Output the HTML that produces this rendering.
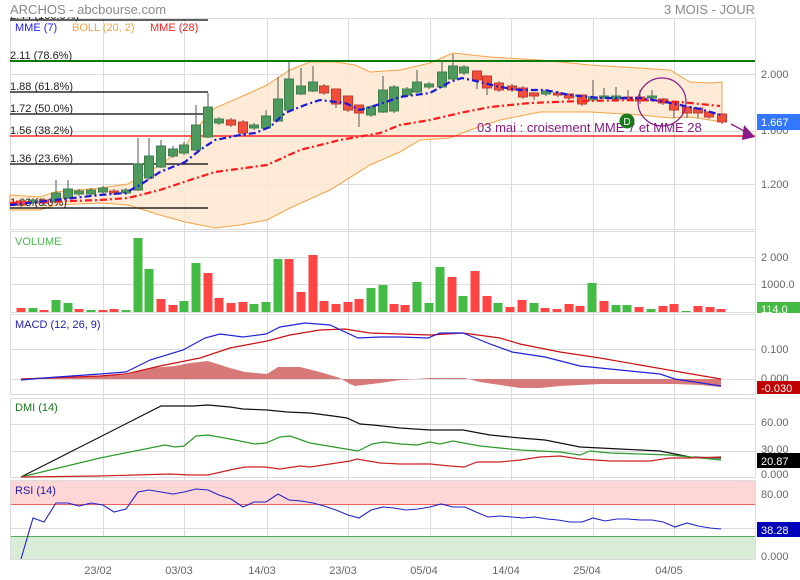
<!DOCTYPE html>
<html><head><meta charset="utf-8"><style>
html,body{margin:0;padding:0;background:#fff;}
svg{display:block;font-family:"Liberation Sans",sans-serif;}
</style></head><body>
<svg width="800" height="580" viewBox="0 0 800 580" xmlns="http://www.w3.org/2000/svg">
<defs><clipPath id="c1"><rect x="0" y="17" width="300" height="10"/></clipPath></defs>
<rect width="800" height="580" fill="#fff"/>
<text x="10" y="14" font-size="13" fill="#8a8a8a">ARCHOS - abcbourse.com</text>
<text x="755" y="14" font-size="13" fill="#8a8a8a" text-anchor="end">3 MOIS - JOUR</text>

<g stroke="#dcdcdc" stroke-width="1" fill="none">
<rect x="10.5" y="18.5" width="745" height="211"/>
<rect x="10.5" y="231.5" width="745" height="81"/>
<rect x="10.5" y="314.5" width="745" height="80"/>
<rect x="10.5" y="398.5" width="745" height="79"/>
<rect x="10.5" y="480.5" width="745" height="79"/>
<path d="M103.5 18V560M184.5 18V560M267.5 18V560M348.5 18V560M430.5 18V560M511.5 18V560M593.5 18V560M674.5 18V560"/>
<path d="M10 74.5H755M10 131.5H755M10 184.5H755M10 257.5H755M10 284.5H755M10 349.5H755M10 379.5H755M10 424.5H755M10 451.5H755M10 495.5H755M10 528.5H755"/>
</g>

<rect x="11" y="481" width="744" height="23" fill="#ffd6d6"/>
<rect x="11" y="536" width="744" height="23" fill="#d8ecd8"/>
<line x1="11" y1="504.5" x2="755" y2="504.5" stroke="#e86060"/>
<line x1="11" y1="536.5" x2="755" y2="536.5" stroke="#5aa85a"/>

<polygon fill="#fde6d0" fill-opacity="0.85" stroke="#f4a445" stroke-width="1" points="10,195 40,197 55,192 100,188 128,184 160,165 185,147 195,130 215,108 245,95 267,85 290,70 310,62 335,62 355,65 370,72 400,70 430,63 453,53 490,57 540,60 590,65 670,70 690,82 710,83 722,82 722,122 710,120 690,117 670,118 640,115 590,112 540,112 500,120 470,130 450,138 420,140 400,152 370,165 330,190 290,208 267,220 240,225 215,228 200,225 185,222 160,215 128,205 100,203 55,205 40,210 10,210"/>

<g stroke="#000" stroke-width="1.2">
<line x1="10" y1="20" x2="208" y2="20"/>
<line x1="10" y1="92" x2="208" y2="92"/>
<line x1="10" y1="114" x2="208" y2="114"/>
<line x1="10" y1="164" x2="208" y2="164"/>
<line x1="10" y1="208" x2="208" y2="208"/>
</g>
<line x1="10" y1="61" x2="755" y2="61" stroke="#0a7a0a" stroke-width="2"/>
<line x1="10" y1="136" x2="755" y2="136" stroke="#ff0000" stroke-width="1.3"/>
<g font-size="11" fill="#222">
<text x="10" y="19" clip-path="url(#c1)">2.44 (100.0%)</text>
<text x="10" y="59">2.11 (78.6%)</text>
<text x="10" y="90">1.88  (61.8%)</text>
<text x="10" y="112">1.72  (50.0%)</text>
<text x="10" y="134">1.56  (38.2%)</text>
<text x="10" y="162">1.36  (23.6%)</text>
<text x="10" y="206">1.03  (0.0%)</text>
</g>
<g font-size="11">
<text x="15" y="31" fill="#1a1aff">MME (7)</text>
<text x="72" y="31" fill="#f4a445">BOLL (20, 2)</text>
<text x="150" y="31" fill="#ff2020">MME (28)</text>
</g>

<g stroke-width="1">
<g stroke="#555">
<path d="M56 180V203M68 180V199M138 138V191M149 138V179M161 140V168M196 105V151M208 93V138M266 110V129M278 77V122M289 62V111M301 68V95M313 66V92M359 105V127M383 76V113M417 70V93M442 60V88M453 54V80M477 71V89M487 76V95M593 80V101M616 87V100M674 102V118M687 107V118M698 108V118M722 114V124M336 89V108M348 96V112M534 92V100M569 94V100M582 95V106M663 98V105M709 112V119M149 156V180M33 198V206M21 199V207M44 198V206M79 189V196M91 188V196M103 186V194M114 189V195M126 188V195M173 146V158M184 142V155M219 117V125M231 118V127M243 120V135M254 123V130M324 84V95M371 105V117M394 85V113M407 87V97M429 82V89M464 65V75M499 81V92M512 84V92M523 86V99M546 89V96M558 91V97M604 88V99M628 90V100M640 90V104M652 90V100"/>
</g>
<g fill="#4e9a5e" stroke="#3f7f4c">
<rect x="28.5" y="200" width="9" height="3"/>
<rect x="51.5" y="193" width="9" height="9"/>
<rect x="63.5" y="189" width="9" height="9"/>
<rect x="74.5" y="191" width="9" height="3"/>
<rect x="86.5" y="190" width="9" height="4"/>
<rect x="98.5" y="188" width="9" height="4"/>
<rect x="121.5" y="190" width="9" height="3"/>
<rect x="133.5" y="164" width="9" height="26"/>
<rect x="144.5" y="156" width="9" height="22"/>
<rect x="156.5" y="146" width="9" height="21"/>
<rect x="168.5" y="149" width="9" height="7"/>
<rect x="179.5" y="145" width="9" height="8"/>
<rect x="191.5" y="125" width="9" height="25"/>
<rect x="203.5" y="107" width="9" height="30"/>
<rect x="214.5" y="119" width="9" height="4"/>
<rect x="249.5" y="125" width="9" height="3"/>
<rect x="261.5" y="116" width="9" height="12"/>
<rect x="273.5" y="99" width="9" height="22"/>
<rect x="284.5" y="79" width="9" height="31"/>
<rect x="296.5" y="86" width="9" height="8"/>
<rect x="308.5" y="82" width="9" height="9"/>
<rect x="366.5" y="107" width="9" height="8"/>
<rect x="378.5" y="90" width="9" height="22"/>
<rect x="389.5" y="87" width="9" height="24"/>
<rect x="402.5" y="89" width="9" height="6"/>
<rect x="412.5" y="82" width="9" height="10"/>
<rect x="424.5" y="84" width="9" height="3"/>
<rect x="437.5" y="72" width="9" height="15"/>
<rect x="448.5" y="66" width="9" height="13"/>
<rect x="459.5" y="67" width="9" height="6"/>
<rect x="541.5" y="91" width="9" height="3"/>
<rect x="588.5" y="97" width="9" height="3"/>
<rect x="599.5" y="96" width="9" height="2"/>
<rect x="611.5" y="96" width="9" height="3"/>
<rect x="647.5" y="96" width="9" height="2"/>
</g>
<g fill="#f24e3c" stroke="#c83a2c">
<rect x="16.5" y="201" width="9" height="4"/>
<rect x="39.5" y="200" width="9" height="3"/>
<rect x="109.5" y="191" width="9" height="2"/>
<rect x="226.5" y="120" width="9" height="5"/>
<rect x="238.5" y="122" width="9" height="11"/>
<rect x="319.5" y="86" width="9" height="7"/>
<rect x="331.5" y="89" width="9" height="15"/>
<rect x="343.5" y="96" width="9" height="14"/>
<rect x="354.5" y="105" width="9" height="8"/>
<rect x="472.5" y="71" width="9" height="9"/>
<rect x="482.5" y="76" width="9" height="12"/>
<rect x="494.5" y="83" width="9" height="7"/>
<rect x="507.5" y="86" width="9" height="4"/>
<rect x="518.5" y="88" width="9" height="9"/>
<rect x="529.5" y="93" width="9" height="3"/>
<rect x="553.5" y="93" width="9" height="2"/>
<rect x="564.5" y="94" width="9" height="4"/>
<rect x="577.5" y="95" width="9" height="9"/>
<rect x="623.5" y="97" width="9" height="2"/>
<rect x="635.5" y="97" width="9" height="4"/>
<rect x="658.5" y="99" width="9" height="4"/>
<rect x="669.5" y="102" width="9" height="8"/>
<rect x="682.5" y="107" width="9" height="6"/>
<rect x="693.5" y="108" width="9" height="5"/>
<rect x="704.5" y="112" width="9" height="5"/>
<rect x="717.5" y="114" width="9" height="8"/>
</g>
</g>

<polyline fill="none" stroke="#ff1a1a" stroke-width="2.2" stroke-dasharray="7,3,2,3" points="10,203 100,200 128,198 160,190 190,180 215,172 267,165 300,150 340,140 380,133 400,125 430,120 460,113 490,107 530,103 580,101 640,100 680,102 720,106"/>
<polyline fill="none" stroke="#1a1ad8" stroke-width="2.2" stroke-dasharray="7,3,2,3" points="10,205 55,200 100,195 125,193 140,185 160,172 185,162 200,150 215,140 240,135 255,133 270,127 285,113 305,105 320,100 345,103 360,110 380,104 400,97 430,93 450,82 462,78 480,82 500,87 520,90 545,90 570,95 600,98 640,98 660,101 680,105 700,109 721,115"/>

<circle cx="662" cy="102" r="24" fill="none" stroke="#8a1a8a" stroke-width="1.2"/>
<text x="477" y="132" font-size="13" fill="#8a1a8a">03 mai : croisement MME 7 et MME 28</text>
<circle cx="627" cy="121" r="7.5" fill="#1a7a1a"/>
<text x="627" y="125" font-size="10" fill="#fff" text-anchor="middle">D</text>
<line x1="731" y1="124" x2="746" y2="132" stroke="#8a1a8a" stroke-width="1.3"/>
<polygon points="744,125 755,137 742,140" fill="#8a1a8a"/>

<g font-size="11" fill="#666">
<text x="761" y="78">2.000</text>
<text x="761" y="134">1.600</text>
<text x="761" y="188">1.200</text>
</g>
<rect x="757" y="114" width="43" height="16" fill="#3377ff"/>
<text x="761" y="126" font-size="11" fill="#fff">1.667</text>

<text x="15" y="245" font-size="11" fill="#44bb44">VOLUME</text>
<g fill="#44bb44">
<rect x="28.5" y="308" width="9" height="4"/><rect x="51.5" y="300" width="9" height="12"/><rect x="63.5" y="303" width="9" height="9"/><rect x="86.5" y="310" width="9" height="2"/><rect x="121.5" y="310" width="9" height="2"/><rect x="133.5" y="238" width="9" height="74"/><rect x="144.5" y="269" width="9" height="43"/><rect x="179.5" y="301" width="9" height="11"/><rect x="191.5" y="263" width="9" height="49"/><rect x="249.5" y="304" width="9" height="8"/><rect x="261.5" y="302" width="9" height="10"/><rect x="273.5" y="259" width="9" height="53"/><rect x="366.5" y="288" width="9" height="24"/><rect x="378.5" y="285" width="9" height="27"/><rect x="412.5" y="282" width="9" height="30"/><rect x="424.5" y="303" width="9" height="9"/><rect x="435.5" y="267" width="9" height="45"/><rect x="458.5" y="296" width="9" height="16"/><rect x="493.5" y="303" width="9" height="9"/><rect x="529.5" y="303" width="9" height="9"/><rect x="587.5" y="283" width="9" height="29"/><rect x="611.5" y="305" width="9" height="7"/><rect x="622.5" y="305" width="9" height="7"/><rect x="646.5" y="309" width="9" height="3"/><rect x="681.5" y="311" width="9" height="1"/>
</g>
<g fill="#ff4444">
<rect x="16.5" y="308" width="9" height="4"/><rect x="39.5" y="310" width="9" height="2"/><rect x="74.5" y="309" width="9" height="3"/><rect x="98.5" y="310" width="9" height="2"/><rect x="109.5" y="309" width="9" height="3"/><rect x="156.5" y="299" width="9" height="13"/><rect x="168.5" y="305" width="9" height="7"/><rect x="203.5" y="273" width="9" height="39"/><rect x="214.5" y="298" width="9" height="14"/><rect x="226.5" y="303" width="9" height="9"/><rect x="238.5" y="302" width="9" height="10"/><rect x="284.5" y="259" width="9" height="53"/><rect x="296.5" y="292" width="9" height="20"/><rect x="308.5" y="255" width="9" height="57"/><rect x="319.5" y="301" width="9" height="11"/><rect x="331.5" y="304" width="9" height="8"/><rect x="343.5" y="302" width="9" height="10"/><rect x="354.5" y="299" width="9" height="13"/><rect x="389.5" y="304" width="9" height="8"/><rect x="400.5" y="305" width="9" height="7"/><rect x="447.5" y="277" width="9" height="35"/><rect x="470.5" y="271" width="9" height="41"/><rect x="482.5" y="296" width="9" height="16"/><rect x="505.5" y="307" width="9" height="5"/><rect x="517.5" y="300" width="9" height="12"/><rect x="540.5" y="308" width="9" height="4"/><rect x="552.5" y="309" width="9" height="3"/><rect x="564.5" y="304" width="9" height="8"/><rect x="575.5" y="306" width="9" height="6"/><rect x="599.5" y="301" width="9" height="11"/><rect x="634.5" y="307" width="9" height="5"/><rect x="658.5" y="306" width="9" height="6"/><rect x="669.5" y="304" width="9" height="8"/><rect x="693.5" y="306" width="9" height="6"/><rect x="705.5" y="307" width="9" height="5"/><rect x="716.5" y="309" width="9" height="3"/>
</g>
<g font-size="11" fill="#666">
<text x="761" y="261">2 000</text>
<text x="761" y="288">1000.0</text>
</g>
<rect x="757" y="302" width="43" height="11" fill="#44bb44"/>
<text x="761" y="313" font-size="11" fill="#fff">114.0</text>

<text x="15" y="328" font-size="11" fill="#1a1ab0">MACD (12, 26, 9)</text>
<polygon fill="#d46a6a" fill-opacity="0.9" points="21,379 126,375 150,368 175,366 190,363 208,361 230,368 245,372 267,374 278,367 300,367 320,372 340,378 350,384 355,386 380,383 400,380 430,378 465,378 480,382 500,385 520,388 540,388 560,386 600,384 640,384 675,384 700,385 721,387 721,379"/>
<polyline fill="none" stroke="#cc1111" stroke-width="1.2" points="21,379 100,376 126,374 160,366 200,358 230,348 267,341 290,335 320,330 345,329 370,333 400,334 430,335 463,333 500,338 520,344 560,352 600,358 640,365 680,372 721,379"/>
<polyline fill="none" stroke="#2222dd" stroke-width="1.2" points="21,380 43,378 100,374 126,372 150,360 183,350 205,338 220,334 243,337 266,334 280,327 305,323 330,325 358,338 380,337 400,337 428,338 440,333 463,333 490,344 512,352 545,357 580,366 620,370 660,374 675,379 721,386"/>
<g font-size="11" fill="#666">
<text x="761" y="353">0.100</text>
<text x="761" y="382">0.000</text>
</g>
<rect x="757" y="381" width="43" height="13" fill="#c00000"/>
<text x="761" y="392" font-size="11" fill="#fff">-0.030</text>

<text x="15" y="411" font-size="11" fill="#1a7a1a">DMI (14)</text>
<polyline fill="none" stroke="#111" stroke-width="1.2" points="21,477 161,406 193,406 208,405 230,407 243,409 267,410 287,412 310,413 333,416 347,418 360,424 373,425 400,428 430,430 463,430 490,435 520,438 545,440 580,447 620,449 660,451 690,457 721,458"/>
<polyline fill="none" stroke="#2a9a2a" stroke-width="1.2" points="21,477 100,458 165,445 175,447 184,446 196,436 208,435 230,439 255,444 266,443 280,437 290,436 310,443 340,448 358,451 372,444 384,442 400,444 417,445 430,442 440,444 453,441 480,446 500,448 520,450 560,452 580,455 590,451 610,453 640,454 670,455 721,460"/>
<polyline fill="none" stroke="#cc2222" stroke-width="1.2" points="21,477 100,476 170,474 190,475 208,475 230,470 245,467 265,467 280,469 300,466 310,467 350,461 357,459 380,463 400,464 420,464 430,464 450,466 464,467 477,462 500,462 520,460 540,457 560,456 580,459 610,461 650,461 670,458 690,458 721,457"/>
<g font-size="11" fill="#666">
<text x="761" y="426">60.00</text>
<text x="761" y="453">30.00</text>
<text x="761" y="478">0.000</text>
</g>
<rect x="757" y="453" width="43" height="15" fill="#000"/>
<text x="761" y="465" font-size="11" fill="#fff">20.87</text>

<text x="15" y="494" font-size="11" fill="#1a1ab0">RSI (14)</text>
<polyline fill="none" stroke="#2222cc" stroke-width="1.1" points="21,559 33,518 44,522 56,503 68,503 79,506 91,503 103,505 114,512 126,509 138,492 149,490 161,492 173,494 184,492 196,489 208,490 219,495 231,499 243,507 254,502 266,502 278,494 289,500 301,501 313,503 324,506 336,510 348,515 359,518 371,510 383,507 394,508 406,510 418,509 430,507 441,504 453,507 465,507 476,512 488,517 500,516 512,517 523,518 535,517 547,519 558,520 570,522 582,522 593,518 605,521 617,519 628,519 640,520 652,520 663,522 675,527 687,523 698,526 710,528 721,529"/>
<g font-size="11" fill="#666">
<text x="761" y="498">80.00</text>
<text x="761" y="560">0.000</text>
</g>
<rect x="757" y="522" width="43" height="15" fill="#0000bb"/>
<text x="761" y="534" font-size="11" fill="#fff">38.28</text>

<g font-size="11" fill="#666" text-anchor="middle">
<text x="98" y="574">23/02</text>
<text x="179" y="574">03/03</text>
<text x="262" y="574">14/03</text>
<text x="343" y="574">23/03</text>
<text x="424" y="574">05/04</text>
<text x="506" y="574">14/04</text>
<text x="587" y="574">25/04</text>
<text x="669" y="574">04/05</text>
</g>
</svg>
</body></html>
